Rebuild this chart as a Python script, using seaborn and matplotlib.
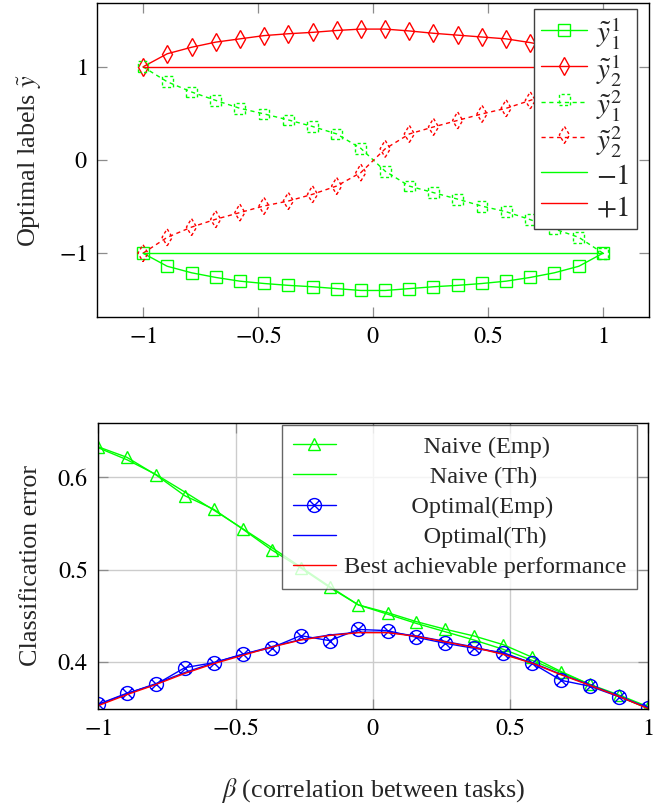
import numpy as np
import matplotlib
matplotlib.use("Agg")
import matplotlib.pyplot as plt
import seaborn as sns
from matplotlib.lines import Line2D
from matplotlib.legend_handler import HandlerTuple
from matplotlib.path import Path

sns.set_theme(style="ticks")
plt.rcParams["font.family"] = ["Liberation Serif", "DejaVu Serif"]
plt.rcParams["mathtext.fontset"] = "stix"
plt.rcParams["axes.unicode_minus"] = True

GREEN = "#00ff00"
RED = "#ff0000"
BLUE = "#0000ff"
TICK_FS = 17.3
LABEL_FS = 18.8

# correlation between tasks (x grid of both panels)
beta = [-1.0, -0.895, -0.789, -0.684, -0.579, -0.474, -0.368, -0.263, -0.158, -0.053,
        0.053, 0.158, 0.263, 0.368, 0.474, 0.579, 0.684, 0.789, 0.895, 1.0]

# top panel: optimal labels
y1_task1 = [-1.0, -1.14, -1.21, -1.26, -1.30, -1.325, -1.345, -1.36, -1.38, -1.40,
            -1.40, -1.38, -1.36, -1.345, -1.325, -1.30, -1.26, -1.21, -1.14, -1.0]
y2_task1 = [1.0, 1.14, 1.21, 1.265, 1.30, 1.335, 1.355, 1.37, 1.39, 1.405,
            1.405, 1.385, 1.36, 1.34, 1.32, 1.30, 1.26, 1.21, 1.14, 1.0]
y1_task2 = [1.0, 0.84, 0.73, 0.64, 0.555, 0.495, 0.43, 0.36, 0.28, 0.125,
            -0.12, -0.28, -0.35, -0.42, -0.495, -0.555, -0.64, -0.74, -0.83, -1.0]
y2_task2 = [-1.0, -0.83, -0.72, -0.636, -0.564, -0.493, -0.44, -0.368, -0.279, -0.135,
            0.12, 0.28, 0.355, 0.425, 0.495, 0.555, 0.64, 0.735, 0.84, 1.0]
ref_x = [-1.0, 1.0]
minus_one = [-1.0, -1.0]
plus_one = [1.0, 1.0]

# bottom panel: classification error
naive_emp = [0.633, 0.6216, 0.6025, 0.580, 0.5654, 0.544, 0.5214, 0.502, 0.481, 0.462,
             0.4536, 0.4439, 0.4357, 0.4284, 0.419, 0.4054, 0.390, 0.376, 0.3646, 0.352]
naive_th = [0.632, 0.619, 0.603, 0.584, 0.5645, 0.5445, 0.524, 0.503, 0.482, 0.462,
            0.452, 0.442, 0.433, 0.424, 0.414, 0.402, 0.389, 0.376, 0.363, 0.350]
opt_emp = [0.3546, 0.3665, 0.3762, 0.3942, 0.3996, 0.4087, 0.4158, 0.4288, 0.4234, 0.4355,
           0.4342, 0.4270, 0.4205, 0.4151, 0.4104, 0.3989, 0.3805, 0.3741, 0.3627, 0.3508]
opt_th = [0.354, 0.366, 0.377, 0.389, 0.3995, 0.4085, 0.417, 0.4245, 0.4295, 0.4325,
          0.4325, 0.4285, 0.4225, 0.4165, 0.409, 0.3995, 0.387, 0.3755, 0.3635, 0.3505]
best = [0.353, 0.365, 0.376, 0.388, 0.3985, 0.4075, 0.4165, 0.424, 0.429, 0.432,
        0.432, 0.428, 0.422, 0.416, 0.4085, 0.399, 0.3865, 0.375, 0.363, 0.350]

x_ticks = [-1, -0.5, 0, 0.5, 1]
x_ticklabels = [r"$-1$", r"$-0.5$", r"$0$", r"$0.5$", r"$1$"]
top_yticks = [-1, 0, 1]
top_yticklabels = [r"$-1$", r"$0$", r"$1$"]
bot_yticks = [0.4, 0.5, 0.6]
bot_yticklabels = [r"$0.4$", r"$0.5$", r"$0.6$"]

# circle with a cross marker (pgfplots "otimes")
_c = Path.unit_circle()
_d = 0.7071
_x = Path([(-_d, -_d), (_d, _d), (-_d, _d), (_d, -_d)],
          [Path.MOVETO, Path.LINETO, Path.MOVETO, Path.LINETO])
OTIMES = Path.make_compound_path(_c, _x)

DASH = (0, (3.0, 2.6))
MDASH = (0, (2.2, 1.8))


def style_axes(ax):
    for s in ax.spines.values():
        s.set_color("black")
        s.set_linewidth(1.0)
    ax.tick_params(direction="in", top=True, right=True, length=7, width=0.9,
                   color="0.55", labelsize=TICK_FS, pad=7, labelcolor="black")


fig = plt.figure(figsize=(6.64, 8.10), dpi=100)

# ---------------- top panel ----------------
ax1 = fig.add_axes([0.1461, 0.6086, 0.8313, 0.3877])
sns.lineplot(x=beta, y=y1_task1, ax=ax1, color=GREEN, lw=1.0, marker="s", ms=8,
             mfc="none", mec=GREEN, mew=1.0)
sns.lineplot(x=beta, y=y2_task1, ax=ax1, color=RED, lw=1.0, marker="d", ms=9,
             mfc="none", mec=RED, mew=1.0)
sns.lineplot(x=beta, y=y1_task2, ax=ax1, color=GREEN, lw=1.0, linestyle=DASH)
sc12 = ax1.scatter(beta, y1_task2, marker="s", s=60, facecolors="none",
                   edgecolors=GREEN, linewidths=1.0, linestyles=MDASH, zorder=3)
sns.lineplot(x=beta, y=y2_task2, ax=ax1, color=RED, lw=1.0, linestyle=DASH)
sc22 = ax1.scatter(beta, y2_task2, marker="d", s=75, facecolors="none",
                   edgecolors=RED, linewidths=1.0, linestyles=MDASH, zorder=3)
sns.lineplot(x=ref_x, y=minus_one, ax=ax1, color=GREEN, lw=1.0)
sns.lineplot(x=ref_x, y=plus_one, ax=ax1, color=RED, lw=1.0)

ax1.set_xlim(-1.2, 1.2)
ax1.set_ylim(-1.685, 1.685)
ax1.set_xticks(x_ticks)
ax1.set_xticklabels(x_ticklabels)
ax1.set_yticks(top_yticks)
ax1.set_yticklabels(top_yticklabels)
ax1.set_ylabel(r"Optimal labels $\tilde{y}$", fontsize=LABEL_FS, labelpad=11)
style_axes(ax1)

top_handles = [
    Line2D([], [], color=GREEN, lw=1.0, marker="s", ms=8, mfc="none", mec=GREEN),
    Line2D([], [], color=RED, lw=1.0, marker="d", ms=9, mfc="none", mec=RED),
    (Line2D([], [], color=GREEN, lw=1.0, linestyle=DASH), sc12),
    (Line2D([], [], color=RED, lw=1.0, linestyle=DASH), sc22),
    Line2D([], [], color=GREEN, lw=1.0),
    Line2D([], [], color=RED, lw=1.0),
]
top_labels = [r"$\tilde{y}_1^1$", r"$\tilde{y}_2^1$", r"$\tilde{y}_1^2$",
              r"$\tilde{y}_2^2$", r"$-1$", r"$+1$"]
TOP_LEG_FS = 21
leg1 = ax1.legend(top_handles, top_labels, loc="upper right",
                  bbox_to_anchor=(0.9593, 0.9889), bbox_transform=fig.transFigure,
                  borderaxespad=0, fontsize=TOP_LEG_FS, handlelength=1.58,
                  handleheight=1.2, handletextpad=0.3, labelspacing=0.0,
                  borderpad=0.25, fancybox=False, framealpha=1.0, edgecolor="0.25",
                  scatteryoffsets=[0.5], handler_map={tuple: HandlerTuple(ndivide=1)})
leg1.get_frame().set_linewidth(1.0)

# ---------------- bottom panel ----------------
ax2 = fig.add_axes([0.1476, 0.1247, 0.8283, 0.3531])
ax2.grid(True, color="0.8", lw=1.0)
ax2.set_axisbelow(True)
sns.lineplot(x=beta, y=naive_emp, ax=ax2, color=GREEN, lw=1.0, marker="^", ms=9,
             mfc="none", mec=GREEN, mew=1.0, label="Naive (Emp)")
sns.lineplot(x=beta, y=naive_th, ax=ax2, color=GREEN, lw=1.0, label="Naive (Th)")
sns.lineplot(x=beta, y=opt_emp, ax=ax2, color=BLUE, lw=1.0, marker=OTIMES, ms=10,
             mfc="none", mec=BLUE, mew=1.0, label="Optimal(Emp)")
sns.lineplot(x=beta, y=opt_th, ax=ax2, color=BLUE, lw=1.0, label="Optimal(Th)")
sns.lineplot(x=beta, y=best, ax=ax2, color=RED, lw=1.0,
             label="Best achievable performance")

ax2.set_xlim(-1, 1)
ax2.set_ylim(0.3495, 0.6587)
ax2.set_xticks(x_ticks)
ax2.set_xticklabels(x_ticklabels)
ax2.set_yticks(bot_yticks)
ax2.set_yticklabels(bot_yticklabels)
ax2.set_xlabel(r"$\beta$ (correlation between tasks)", fontsize=LABEL_FS, labelpad=26)
ax2.set_ylabel("Classification error", fontsize=LABEL_FS, labelpad=11)
style_axes(ax2)

# centre the legend labels by left-padding with spaces
LEG_FS = 17.5
handles, labels = ax2.get_legend_handles_labels()
renderer = fig.canvas.get_renderer()


def text_width(s):
    t = fig.text(0, 0, s, fontsize=LEG_FS)
    w = t.get_window_extent(renderer).width
    t.remove()
    return w


space_w = text_width("a a") - text_width("aa")
widths = [text_width(l) for l in labels]
wmax = max(widths)
padded = [" " * int(round((wmax - w) / 2 / space_w)) + l
          for l, w in zip(labels, widths)]

leg2 = ax2.legend(handles, padded, loc="upper right",
                  bbox_to_anchor=(0.9593, 0.4753), bbox_transform=fig.transFigure,
                  borderaxespad=0, fontsize=LEG_FS, handlelength=1.8,
                  handletextpad=0.3, labelspacing=0.33, borderpad=0.45,
                  fancybox=False, framealpha=0.8, edgecolor="0.25")
leg2.get_frame().set_linewidth(1.0)

fig.savefig("out.png", dpi=100)
